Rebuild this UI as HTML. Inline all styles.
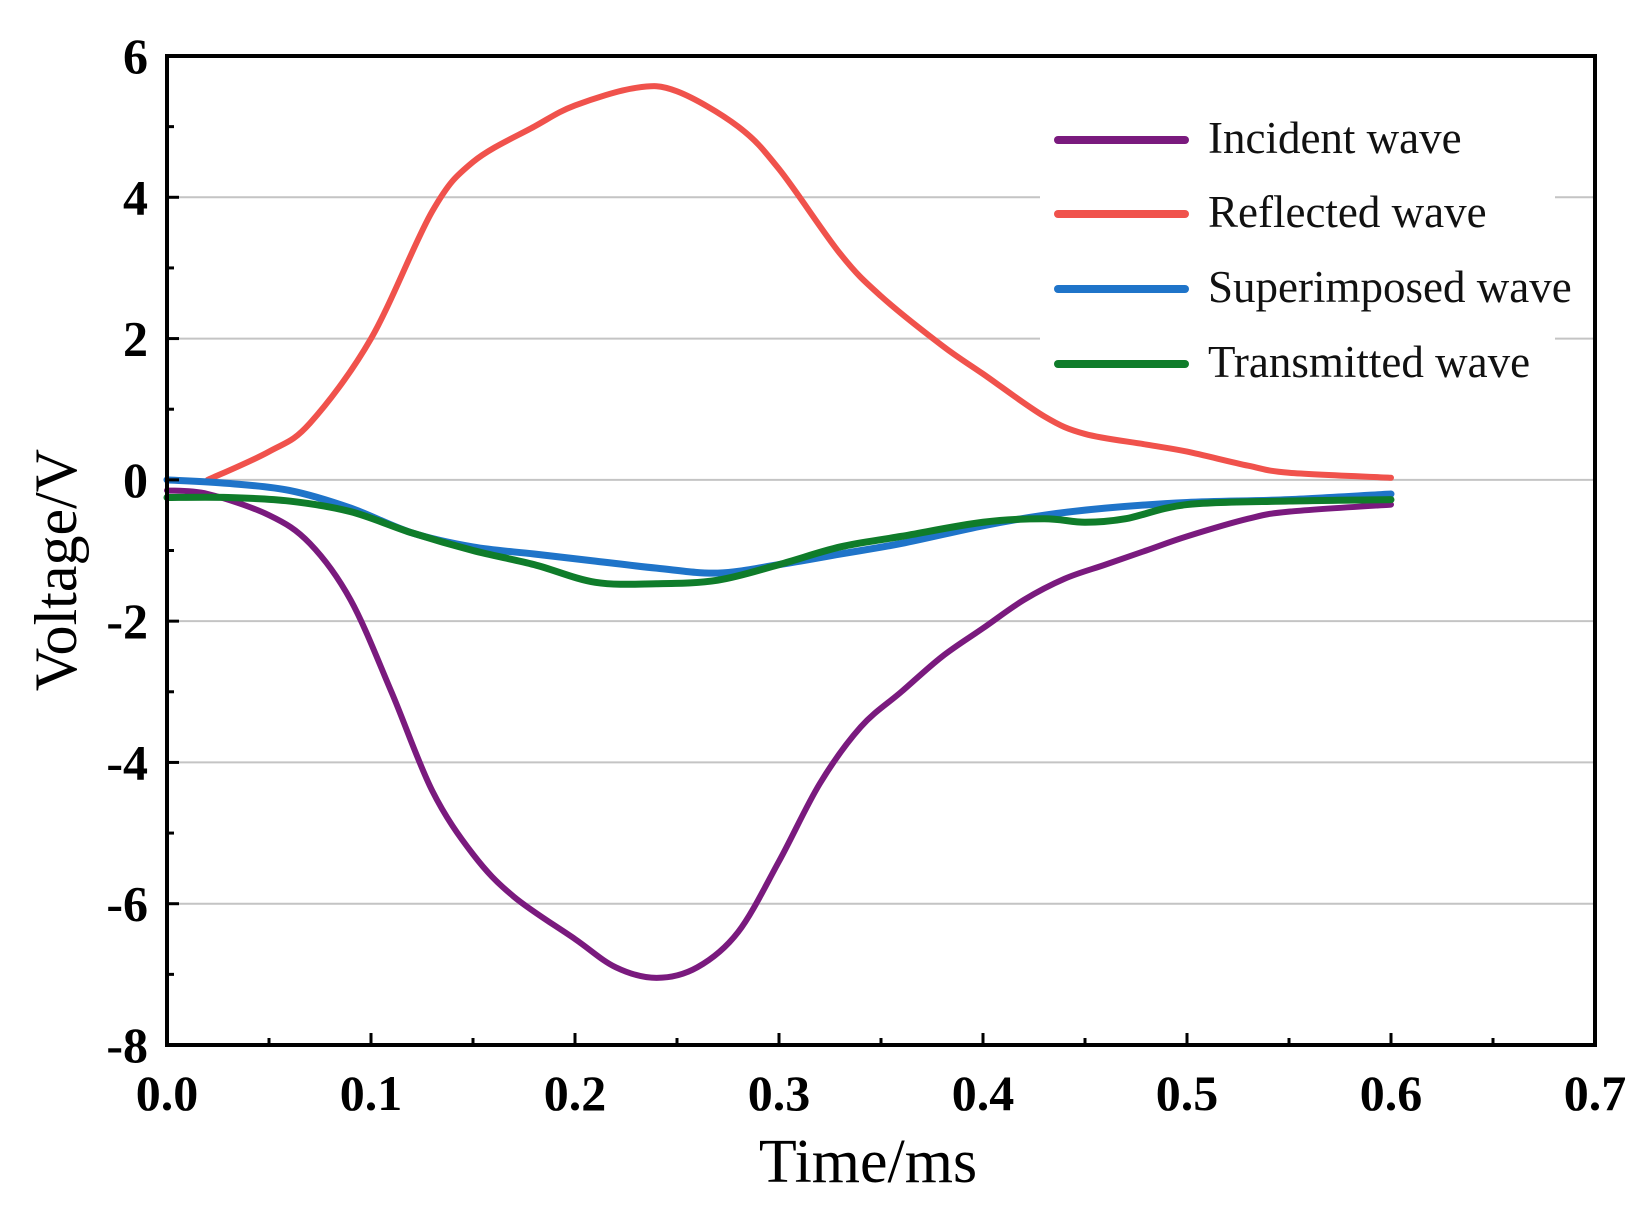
<!DOCTYPE html>
<html><head><meta charset="utf-8"><style>
html,body{margin:0;padding:0;background:#fff;}
svg{display:block;}
</style></head><body>
<svg id="chart" width="1638" height="1208" xmlns="http://www.w3.org/2000/svg"></svg>
<script>
const xTicks=[0,0.1,0.2,0.3,0.4,0.5,0.6,0.7];
const xTickLabels=["0.0","0.1","0.2","0.3","0.4","0.5","0.6","0.7"];
const yTicks=[6,4,2,0,-2,-4,-6,-8];
const yTickLabels=["6","4","2","0","-2","-4","-6","-8"];
const seriesNames=["Incident wave","Reflected wave","Superimposed wave","Transmitted wave"];
const incidentT=[0,0.02,0.05,0.07,0.09,0.11,0.13,0.15,0.17,0.2,0.22,0.24,0.26,0.28,0.3,0.32,0.34,0.36,0.38,0.4,0.42,0.44,0.46,0.48,0.5,0.53,0.55,0.6];
const incidentV=[-0.15,-0.2,-0.5,-0.9,-1.7,-3.0,-4.4,-5.3,-5.9,-6.5,-6.9,-7.05,-6.9,-6.4,-5.4,-4.3,-3.5,-3.0,-2.5,-2.1,-1.7,-1.4,-1.2,-1.0,-0.8,-0.55,-0.45,-0.35];
const reflectedT=[0.02,0.05,0.07,0.1,0.13,0.15,0.18,0.2,0.23,0.25,0.28,0.3,0.33,0.35,0.38,0.4,0.43,0.45,0.48,0.5,0.53,0.55,0.6];
const reflectedV=[0,0.4,0.8,2.0,3.8,4.5,5.0,5.3,5.55,5.5,5.0,4.4,3.2,2.6,1.9,1.5,0.9,0.65,0.5,0.4,0.2,0.1,0.03];
const superT=[0,0.03,0.06,0.09,0.12,0.15,0.18,0.21,0.24,0.27,0.3,0.33,0.36,0.4,0.43,0.46,0.5,0.55,0.6];
const superV=[0,-0.05,-0.15,-0.4,-0.75,-0.95,-1.05,-1.15,-1.25,-1.32,-1.2,-1.05,-0.9,-0.65,-0.5,-0.4,-0.32,-0.28,-0.2];
const transT=[0,0.03,0.06,0.09,0.12,0.15,0.18,0.21,0.24,0.27,0.3,0.33,0.36,0.4,0.43,0.45,0.47,0.5,0.55,0.6];
const transV=[-0.25,-0.25,-0.3,-0.45,-0.75,-1.0,-1.2,-1.45,-1.47,-1.42,-1.2,-0.95,-0.8,-0.6,-0.55,-0.6,-0.55,-0.35,-0.3,-0.28];

const NS="http://www.w3.org/2000/svg";
const svg=document.getElementById('chart');
const L=167,R=1595,T=56,B=1045;
const xs=v=>L+(v-0)/0.7*(R-L);
const ys=v=>T+(6-v)/14*(B-T);
function mk(tag,attrs,parent){const e=document.createElementNS(NS,tag);for(const k in attrs)e.setAttribute(k,attrs[k]);(parent||svg).appendChild(e);return e;}
function smooth(px,py){let d=`M${px[0]},${py[0]}`;for(let i=0;i<px.length-1;i++){const x0=px[Math.max(i-1,0)],y0=py[Math.max(i-1,0)],x1=px[i],y1=py[i],x2=px[i+1],y2=py[i+1],x3=px[Math.min(i+2,px.length-1)],y3=py[Math.min(i+2,px.length-1)];d+=` C${x1+(x2-x0)/6},${y1+(y2-y0)/6} ${x2-(x3-x1)/6},${y2-(y3-y1)/6} ${x2},${y2}`;}return d;}

yTicks.forEach((v,i)=>{if(v===6||v===-8)return;const g=mk('line',{x1:L,x2:R,y1:ys(v),y2:ys(v),stroke:'#c4c4c4','stroke-width':2});

});
const lb=mk('rect',{x:1040,y:105,width:515,height:285,fill:'#fff'});



const series=[[incidentT,incidentV,'#7a1a7e','incident-wave-line',6],[reflectedT,reflectedV,'#f0524c','reflected-wave-line',6],[superT,superV,'#1f74c9','superimposed-wave-line',7],[transT,transV,'#0f7c2a','transmitted-wave-line',7]];
series.forEach(s=>{const p=mk('path',{d:smooth(s[0].map(xs),s[1].map(ys)),fill:'none',stroke:s[2],'stroke-width':s[4],'stroke-linejoin':'round','stroke-linecap':'round'});

});

const fr=mk('rect',{x:L,y:T,width:R-L,height:B-T,fill:'none',stroke:'#000','stroke-width':4});


for(let k=0;k<=14;k++){const v=k*0.05;const t=mk('line',{x1:xs(v),x2:xs(v),y1:B,y2:B-(k%2?7:12),stroke:'#000','stroke-width':3});

}
for(let k=0;k<=14;k++){const v=6-k;const t=mk('line',{x1:L,x2:L+(k%2?7:12),y1:ys(v),y2:ys(v),stroke:'#000','stroke-width':3});

}
xTicks.forEach((v,i)=>{const t=mk('text',{x:xs(v),y:1110,'text-anchor':'middle','font-family':'Liberation Serif, serif','font-weight':'bold','font-size':50});t.textContent=xTickLabels[i];

});
yTicks.forEach((v,i)=>{const t=mk('text',{x:148,y:ys(v)+17,'text-anchor':'end','font-family':'Liberation Serif, serif','font-weight':'bold','font-size':50});t.textContent=yTickLabels[i];

});
const xt=mk('text',{x:868,y:1182,'text-anchor':'middle','font-family':'Liberation Serif, serif','font-size':62});xt.textContent='Time/ms';


const yt=mk('text',{x:0,y:0,'text-anchor':'middle','font-family':'Liberation Serif, serif','font-size':60,transform:'translate(76,570) rotate(-90)'});yt.textContent='Voltage/V';



const lys=[140,214,289,364];
series.forEach((s,i)=>{const l=mk('line',{x1:1058,x2:1185,y1:lys[i],y2:lys[i],stroke:s[2],'stroke-width':8,'stroke-linecap':'round'});


const t=mk('text',{x:1208,y:lys[i]+13,'font-family':'Liberation Serif, serif','font-size':45,fill:'#111'});t.textContent=seriesNames[i];

});
</script>
</body></html>
